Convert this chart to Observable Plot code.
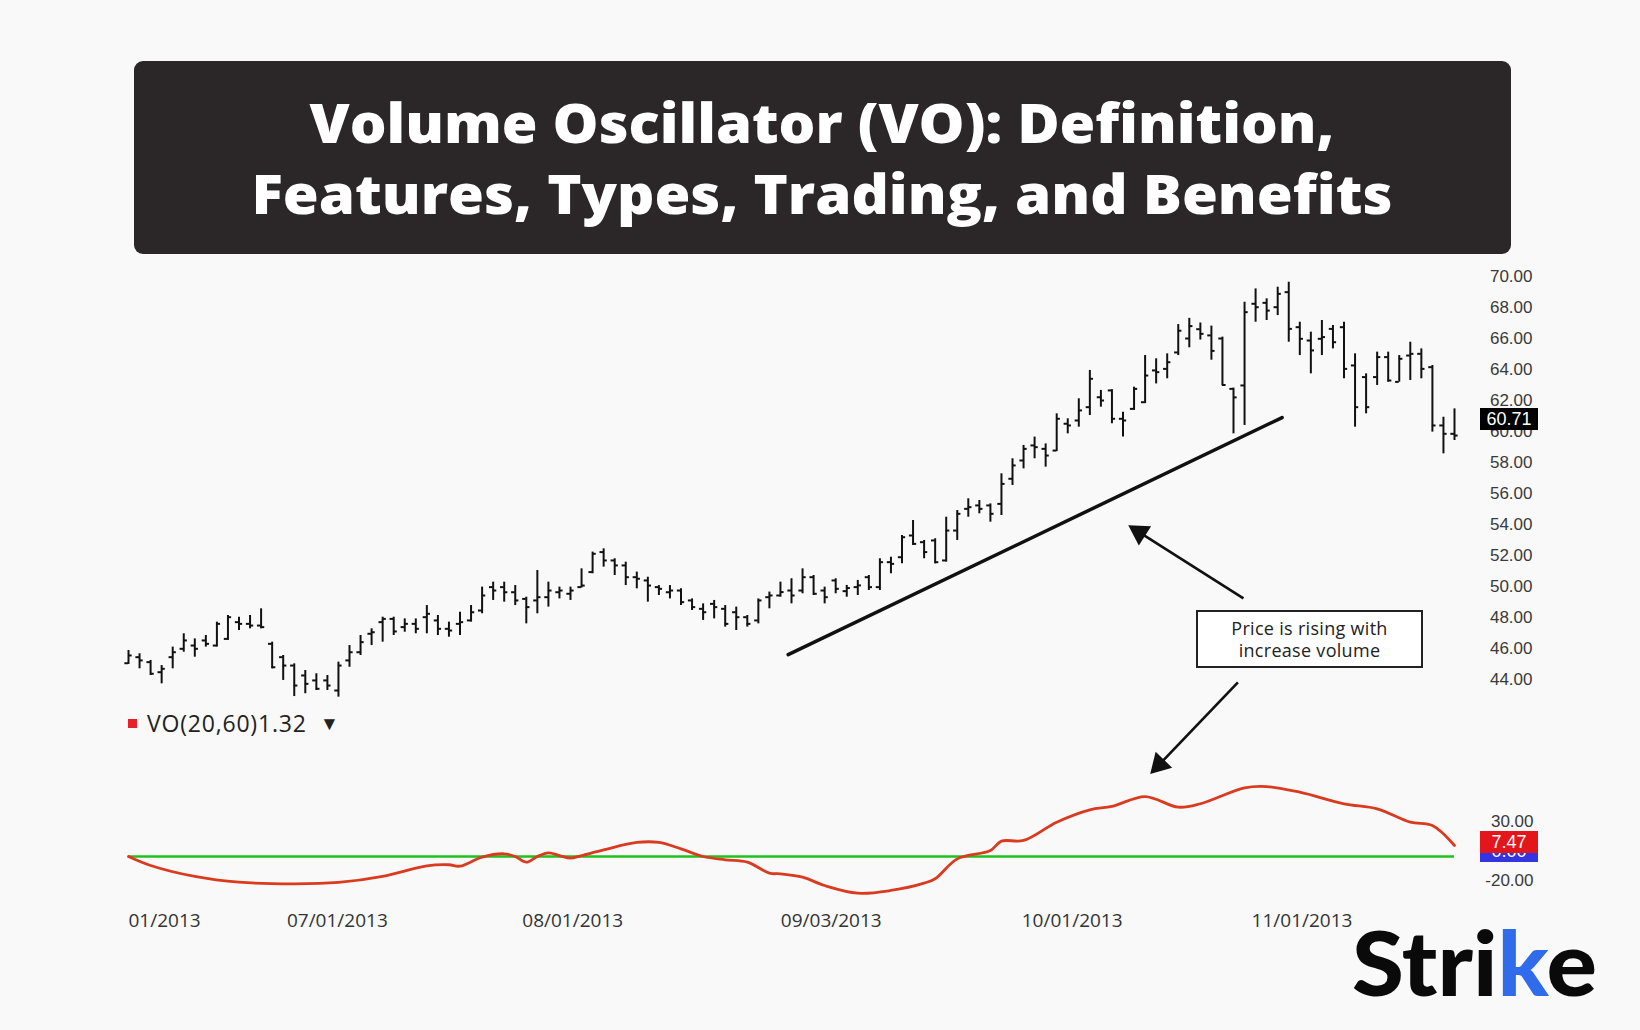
<!DOCTYPE html>
<html>
<head>
<meta charset="utf-8">
<script src="https://cdn.jsdelivr.net/npm/d3@7"></script>
<script src="https://cdn.jsdelivr.net/npm/@observablehq/plot@0.6"></script>
<style>
  html, body { margin: 0; padding: 0; }
  body { width: 1640px; height: 1030px; background: #f9f9f9; position: relative; overflow: hidden; font-family: "Open Sans", sans-serif; }
  .layer { position: absolute; left: 0; top: 0; }
  #titlebox { position: absolute; left: 134px; top: 61px; width: 1377px; height: 193px; background: #2b2728; border-radius: 9px; }
  .pricetag { position: absolute; left: 1480px; width: 58px; height: 22px; color: #fff; font: 18px "Liberation Sans", Arial, sans-serif; line-height: 22px; text-align: center; }
  #legend { position: absolute; left: 128px; top: 709px; height: 28px; font: 23px "Open Sans", sans-serif; color: #222; line-height: 28px; }
  #legend .sq { position: absolute; left: 0; top: 10px; width: 9px; height: 9px; background: #e8202a; }
  #legend .txt { position: absolute; left: 19px; top: 0; white-space: nowrap; letter-spacing: 0.8px; }
  #legend .tri { position: absolute; left: 192px; top: 0; font-size: 19px; }
  #note { position: absolute; left: 1196px; top: 610px; width: 223px; height: 54px; border: 2px solid #222; background: #fff; text-align: center; font: 18px "Open Sans", sans-serif; letter-spacing: 0.3px; color: #222; line-height: 22px; display: flex; align-items: center; justify-content: center; }
</style>
</head>
<body>
<div id="titlebox"></div>
<svg class="layer" id="deco" width="1640" height="1030"></svg>
<div class="layer" id="price"></div>
<div class="layer" id="osc"></div>
<div id="legend"><div class="sq"></div><div class="txt">VO(20,60)1.32</div><div class="tri">▼</div></div>
<div id="note"><div>Price is rising with<br>increase volume</div></div>
<script>
// ---------- DATA ----------
const titleLines = ["Volume Oscillator (VO): Definition,", "Features, Types, Trading, and Benefits"];
const brand = ["Stri", "k", "e"];

// OHLC bars (bar index 1..121)
const barOpen  = [45.05,45.44,45.12,44.47,45.44,45.98,46.19,46.52,46.19,46.62,47.70,47.59,47.48,46.30,45.44,44.90,44.26,43.94,43.94,43.29,
                  45.23,45.76,46.95,47.70,47.91,47.38,47.59,48.02,47.81,47.27,47.59,47.81,48.45,49.96,49.96,49.63,49.20,49.10,49.31,49.63,
                  49.53,49.96,50.93,52.22,51.68,51.36,50.60,50.39,49.96,49.63,49.74,49.10,48.56,48.88,48.56,48.34,48.02,47.81,49.31,49.42,
                  49.74,49.74,50.60,49.74,50.39,49.70,49.96,50.60,49.96,51.57,51.89,53.29,52.86,52.97,51.68,53.61,55.01,55.23,55.23,55.33,
                  56.95,58.13,59.10,58.88,58.77,60.50,60.71,61.57,62.21,62.65,60.82,61.46,61.89,63.94,64.04,65.10,66.00,66.60,66.20,66.00,
                  62.75,62.97,68.24,68.30,68.02,68.99,66.73,65.87,65.98,66.62,66.73,64.26,63.51,63.51,64.80,63.20,64.90,65.01,64.15,60.39,
                  59.85];
const barHigh  = [45.87,45.66,45.23,44.90,46.09,46.95,46.62,46.84,47.70,48.13,48.02,48.13,48.56,46.41,45.55,45.01,44.58,44.37,44.26,45.12,
                  46.19,46.84,47.27,48.02,48.02,47.91,47.91,48.77,48.13,47.70,48.34,48.77,49.96,50.28,50.28,50.06,49.31,51.03,50.28,49.96,
                  49.96,51.14,52.22,52.43,51.79,51.57,50.93,50.60,50.06,50.06,49.85,49.20,48.88,49.10,48.77,48.67,48.13,49.20,49.64,50.28,
                  50.50,51.14,50.71,49.96,50.50,50.07,50.39,50.71,51.79,51.89,53.29,54.26,52.97,53.08,54.47,54.90,55.66,55.55,55.33,57.27,
                  58.24,59.10,59.64,59.20,61.14,60.82,62.11,63.94,62.65,62.70,61.25,62.86,64.90,64.69,65.01,66.90,67.30,67.00,66.80,66.09,
                  62.80,68.34,69.20,68.56,69.31,69.63,67.05,66.41,67.16,66.84,67.05,65.01,63.72,65.12,65.12,64.90,65.76,65.33,64.26,60.92,
                  61.46];
const barLow   = [44.97,44.69,44.26,43.72,44.69,45.76,45.44,46.09,46.09,46.52,47.16,47.27,47.27,44.69,43.94,42.90,43.08,43.29,43.29,42.86,
                  44.79,45.55,46.19,46.41,46.84,47.05,46.95,46.95,46.84,46.73,46.84,47.70,48.24,49.10,48.99,48.77,47.59,48.24,48.67,49.20,
                  49.10,49.90,50.82,51.25,50.71,50.06,49.85,48.99,49.42,49.20,48.77,48.45,47.81,47.91,47.38,47.16,47.38,47.59,48.56,49.31,
                  48.88,49.53,49.42,48.88,49.53,49.31,49.42,49.74,49.74,50.82,51.46,52.65,51.79,51.46,51.57,52.97,54.47,54.69,54.15,54.58,
                  56.52,57.59,58.24,57.70,58.70,59.85,60.28,61.03,61.57,60.50,59.64,61.36,61.80,63.07,63.40,64.90,65.40,65.90,64.60,62.95,
                  59.85,60.39,67.05,67.16,67.48,65.76,64.90,63.72,64.90,65.33,63.40,60.28,61.14,62.97,63.18,63.18,63.29,63.40,59.96,58.56,
                  59.42];
const barClose = [45.55,45.23,44.37,44.69,45.76,46.52,45.98,46.30,47.59,48.02,47.59,47.48,47.38,44.79,44.90,43.61,43.72,43.40,43.61,44.90,
                  45.76,46.41,47.05,47.91,47.10,47.59,47.27,48.24,47.27,47.16,47.70,48.34,49.42,49.74,49.63,49.10,48.67,49.31,49.74,49.74,
                  49.74,50.06,52.11,51.68,51.36,50.60,50.50,50.06,49.85,49.74,48.99,48.67,48.34,48.67,47.59,48.02,47.59,49.10,49.42,49.64,
                  49.42,50.60,49.53,49.31,49.85,49.90,50.07,49.96,51.57,51.46,53.18,52.75,52.22,51.57,53.61,54.69,55.12,55.01,54.69,56.62,
                  57.81,58.88,58.99,58.45,60.82,60.39,61.36,63.40,62.00,60.82,60.71,62.75,63.61,63.83,64.47,66.50,66.80,66.30,65.20,63.00,
                  62.20,67.70,68.02,67.80,68.88,66.62,65.98,65.23,66.09,65.76,64.04,61.57,61.57,64.80,63.29,64.69,65.01,64.04,60.39,59.85,
                  59.74];
const lastPrice = 60.71;
const priceTicks = [44,46,48,50,52,54,56,58,60,62,64,66,68,70];

// Volume oscillator VO(20,60), sampled at bar positions
const oscBar = [1,3,7,11,16,20,24,28,30,31,33,35,36,37,38,39,40,41,42,44,47,49,51,53,55,57,59,60,62,64,67,70,73,74,76,79,80,82,85,88,90,93,96,98,102,104,107,111,114,117,119,121];
const oscVal = [0,-7.6,-16.9,-21.8,-23.2,-22,-16.9,-7.9,-7.0,-8.2,-0.5,2.3,0,-4.8,0,3.1,0.8,-1.4,0.8,5.6,11.9,11.9,6.5,0,-2.8,-4.8,-14.1,-14.7,-17.5,-24.6,-31.1,-28.8,-22.6,-18.9,-2.0,5.1,13.0,13.6,29.1,39.6,42.4,50.8,41.8,44.7,58.2,59.3,54.5,44.7,40.4,29.1,26.3,9.3];
const oscTicks = [-20, 30];
const oscLast = 7.47;
const oscSignal = 0;

// Date axis
const dateTickBar = [19.9, 41.2, 64.6, 86.4, 107.2];
const dateTickLabel = ["07/01/2013", "08/01/2013", "09/03/2013", "10/01/2013", "11/01/2013"];
const firstDateLabel = "01/2013";

// Annotations (bar index, price)
const trendBar = [60.7, 105.4];
const trendPrice = [45.6, 60.9];
const arrowFromBar = [101.9, 101.4], arrowFromPrice = [49.23, 43.81];
const arrowToBar = [91.95, 93.85], arrowToPrice = [53.74, 38.19];

// ---------- BUILD ----------
const bars = barOpen.map((o, k) => ({i: k + 1, o, h: barHigh[k], l: barLow[k], c: barClose[k]}));
const osc = oscBar.map((b, k) => ({b, v: oscVal[k]}));
const trend = trendBar.map((b, k) => ({b, p: trendPrice[k]}));
const arrows = arrowFromBar.map((b, k) => ({x1: b, y1: arrowFromPrice[k], x2: arrowToBar[k], y2: arrowToPrice[k]}));
const dateTicks = dateTickBar.map((b, k) => ({b, t: dateTickLabel[k]}));

const W = 1640, H = 1030;
const xDom = [1, 121];
const baseStyle = {background: "transparent", fontFamily: "'Liberation Sans', Arial, sans-serif", fontSize: "17px", color: "#3a3a3a", overflow: "visible"};

function pricePlot(extra) {
  return Plot.plot({
    width: W, height: H,
    marginLeft: 128, marginRight: 186, marginTop: 276, marginBottom: 351,
    x: {domain: xDom, axis: null},
    y: {domain: [44, 70], axis: null},
    style: baseStyle,
    marks: [
      Plot.axisY(priceTicks, {anchor: "right", label: null, tickSize: 0, tickPadding: 78, textAnchor: "end", tickFormat: d => d.toFixed(2), fill: "#3a3a3a"}),
      Plot.ruleX(bars, {x: "i", y1: "l", y2: "h", stroke: "#111", strokeWidth: 2}),
      Plot.ruleY(bars, {y: "o", x1: d => d.i - 0.33, x2: "i", stroke: "#111", strokeWidth: 2}),
      Plot.ruleY(bars, {y: "c", x1: "i", x2: d => d.i + 0.33, stroke: "#111", strokeWidth: 2}),
      Plot.line(trend, {x: "b", y: "p", stroke: "#111", strokeWidth: 3.5}),
      Plot.link(arrows, {x1: "x1", y1: "y1", x2: "x2", y2: "y2", stroke: "#111", strokeWidth: 2.6}),
      ...extra
    ]
  });
}

// first pass gives the scales, used to orient the filled arrow heads
const probe = pricePlot([]);
const sx = probe.scale("x"), sy = probe.scale("y");
const heads = arrows.map(a => {
  const dx = sx.apply(a.x2) - sx.apply(a.x1), dy = sy.apply(a.y2) - sy.apply(a.y1);
  const L = Math.hypot(dx, dy), t = 1 - 7 / L;
  return {x: a.x1 + t * (a.x2 - a.x1), y: a.y1 + t * (a.y2 - a.y1), r: Math.atan2(dx, -dy) * 180 / Math.PI};
});
const priceChart = pricePlot([
  Plot.dot(heads, {x: "x", y: "y", rotate: "r", symbol: "triangle", r: 8.5, fill: "#111", stroke: "none"})
]);
document.getElementById("price").appendChild(priceChart);

const oscChart = Plot.plot({
  width: W, height: H,
  marginLeft: 128, marginRight: 186, marginTop: 820.6, marginBottom: 150.4,
  x: {domain: xDom, axis: null},
  y: {domain: [-20, 30], axis: null},
  style: baseStyle,
  marks: [
    Plot.axisY(oscTicks, {anchor: "right", label: null, tickSize: 0, tickPadding: 79, textAnchor: "end", tickFormat: d => d.toFixed(2), fill: "#3a3a3a"}),
    Plot.text(dateTicks, {x: "b", text: "t", frameAnchor: "bottom", dy: 47, fontFamily: "'Open Sans', sans-serif", fontSize: 19, fill: "#333"}),
    Plot.text([firstDateLabel], {x: () => xDom[0], text: d => d, frameAnchor: "bottom", dy: 47, textAnchor: "start", fontFamily: "'Open Sans', sans-serif", fontSize: 19, fill: "#333"}),
    Plot.ruleY([oscSignal], {stroke: "#1ec21e", strokeWidth: 2.5}),
    Plot.line(osc, {x: "b", y: "v", stroke: "#da3b1f", strokeWidth: 2.8, curve: "catmull-rom"})
  ]
});
document.getElementById("osc").appendChild(oscChart);

// value tags positioned through the charts' scales
const yP = priceChart.scale("y"), yO = oscChart.scale("y");
function tag(text, bg, y) {
  const d = document.createElement("div");
  d.className = "pricetag";
  d.style.background = bg;
  d.style.top = (y - 11) + "px";
  d.textContent = text;
  document.body.appendChild(d);
}
tag(lastPrice.toFixed(2), "#000", yP.apply(lastPrice) - 1);
tag(oscSignal.toFixed(2), "#3434e0", yO.apply(oscSignal) - 5);
tag(oscLast.toFixed(2), "#e3161c", yO.apply(oscLast) - 5);

// title + brand
const deco = d3.select("#deco");
deco.selectAll("text.t").data(titleLines).join("text")
  .attr("class", "t")
  .attr("x", 822).attr("y", (d, i) => 143 + i * 71)
  .attr("text-anchor", "middle")
  .attr("fill", "#fff")
  .attr("font-family", "'Open Sans', sans-serif")
  .attr("font-weight", 800)
  .attr("font-size", 55)
  .attr("textLength", (d, i) => i === 0 ? 1025 : 1141)
  .attr("lengthAdjust", "spacingAndGlyphs")
  .text(d => d);

const logo = deco.append("text")
  .attr("x", 1352).attr("y", 996)
  .attr("font-family", "Lato, 'Open Sans', sans-serif")
  .attr("font-weight", 900)
  .attr("font-size", 90)
  .attr("textLength", 245)
  .attr("lengthAdjust", "spacingAndGlyphs");
logo.selectAll("tspan").data(brand).join("tspan")
  .attr("fill", (d, i) => i === 1 ? "#2f6bea" : "#0a0a0a")
  .text(d => d);
</script>
</body>
</html>
